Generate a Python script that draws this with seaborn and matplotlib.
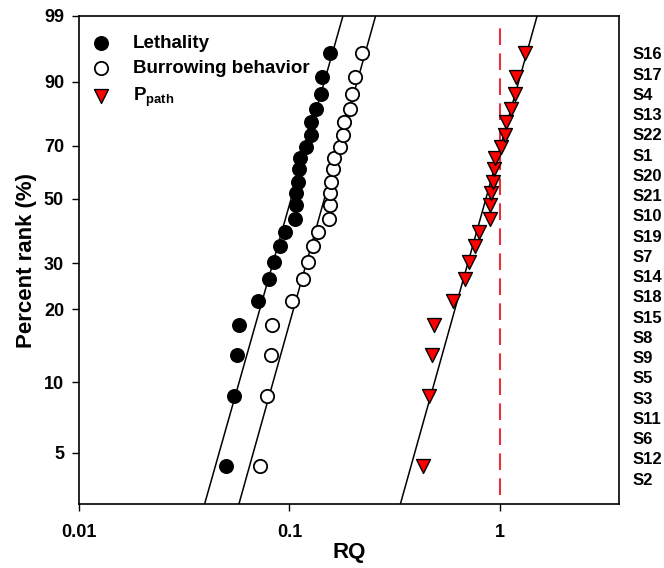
import numpy as np
import pandas as pd
import matplotlib
matplotlib.use('Agg')
import matplotlib.pyplot as plt
import seaborn as sns
from matplotlib.ticker import NullLocator

# percent rank shared by all three series (lowest to highest)
pct_rank = [4.2, 9.0, 13.7, 17.8, 21.9, 26.5, 30.4, 35.4, 39.7, 43.9, 48.1,
            52.1, 56.4, 61.1, 65.4, 69.5, 73.4, 77.4, 81.5, 86.2, 90.7, 93.9]

# RQ values, sorted ascending
lethality = [0.0501, 0.0543, 0.0563, 0.0576, 0.0709, 0.0800, 0.0842, 0.0899,
             0.0950, 0.1060, 0.1079, 0.1079, 0.1099, 0.1111, 0.1119, 0.1205,
             0.1263, 0.1272, 0.1344, 0.1420, 0.1436, 0.1555]
burrowing = [0.0722, 0.0782, 0.0815, 0.0830, 0.1029, 0.1161, 0.1226, 0.1295,
             0.1368, 0.1543, 0.1560, 0.1567, 0.1584, 0.1612, 0.1625, 0.1735,
             0.1800, 0.1810, 0.1936, 0.1995, 0.2046, 0.2226]
p_path = [0.430, 0.460, 0.477, 0.486, 0.601, 0.683, 0.716, 0.762, 0.799, 0.898,
          0.905, 0.908, 0.931, 0.945, 0.949, 1.013, 1.065, 1.070, 1.139, 1.181,
          1.203, 1.318]

# site names listed down the right side (top to bottom)
sites = ['S16', 'S17', 'S4', 'S13', 'S22', 'S1', 'S20', 'S21', 'S10', 'S19', 'S7',
         'S14', 'S18', 'S15', 'S8', 'S9', 'S5', 'S3', 'S11', 'S6', 'S12', 'S2']

y_ticks = [5, 10, 20, 30, 50, 70, 90, 99]
x_ticks = [0.01, 0.1, 1]
x_tick_labels = ['0.01', '0.1', '1']

# the probability axis, as drawn in the original (percent -> position)
scale_pct = [2, 5, 10, 20, 30, 50, 70, 90, 99]
scale_pos = [0, 51.6, 122.0, 195.0, 241.0, 305.3, 358.6, 422.3, 488.6]


def fwd(p):
    return np.interp(p, scale_pct, scale_pos)


def inv(v):
    return np.interp(v, scale_pos, scale_pct)


sns.set_theme(style='ticks')
plt.rcParams['font.family'] = ['Liberation Sans', 'DejaVu Sans']
plt.rcParams['font.weight'] = 'bold'
plt.rcParams['axes.labelweight'] = 'bold'
plt.rcParams['text.color'] = 'black'
plt.rcParams['axes.labelcolor'] = 'black'
plt.rcParams['mathtext.fontset'] = 'custom'
plt.rcParams['mathtext.rm'] = 'Liberation Sans:bold'
plt.rcParams['mathtext.bf'] = 'Liberation Sans:bold'
plt.rcParams['mathtext.default'] = 'rm'

fig, ax = plt.subplots(figsize=(6.64, 5.68), dpi=100)
fig.subplots_adjust(left=0.1194, right=0.9322, bottom=0.1121, top=0.9724)

ax.set_xscale('log')
ax.set_yscale('function', functions=(fwd, inv))

sns.scatterplot(x=lethality, y=pct_rank, ax=ax, color='black', edgecolor='black',
                s=92, linewidth=1.2, label='Lethality', zorder=3)
sns.scatterplot(x=burrowing, y=pct_rank, ax=ax, color='white', edgecolor='black',
                s=92, linewidth=1.3, label='Burrowing behavior', zorder=3)
sns.scatterplot(x=p_path, y=pct_rank, ax=ax, color='#ff0000', edgecolor='black',
                marker='v', s=100, linewidth=1.0, label='P$_{path}$', zorder=3)

# fitted lines (log RQ against rank position)
for vals in [lethality, burrowing, p_path]:
    a, b = np.polyfit(fwd(np.array(pct_rank)), np.log10(vals), 1)
    ends = fwd(np.array([2, 99]))
    ax.plot(10 ** (a * ends + b), [2, 99], color='black', lw=1.1, zorder=2)

ax.axvline(1, ymin=0.02, ymax=0.99, color='#e8313a', lw=1.5, dashes=(8, 4), zorder=1)

ax.set_xlim(0.01, 3.7)
ax.set_ylim(2, 99)
ax.set_xticks(x_ticks)
ax.set_xticklabels(x_tick_labels)
ax.xaxis.set_minor_locator(NullLocator())
ax.set_yticks(y_ticks)
ax.set_yticklabels([str(t) for t in y_ticks])
ax.yaxis.set_minor_locator(NullLocator())

ax.tick_params(axis='both', direction='out', length=5, width=1, labelsize=13,
               colors='black', labelcolor='black')
ax.tick_params(axis='x', pad=9)
ax.tick_params(axis='y', pad=6)
for sp in ax.spines.values():
    sp.set_visible(True)
    sp.set_linewidth(1.2)
    sp.set_color('black')

ax.set_xlabel('RQ', fontsize=16, labelpad=1)
ax.set_ylabel('Percent rank (%)', fontsize=16, labelpad=5)

for yy, name in zip(np.linspace(0.9196, 0.0497, len(sites)), sites):
    ax.text(1.0254, yy, name, transform=ax.transAxes, ha='left', va='center',
            fontsize=12, fontweight='bold')

ax.legend(loc='upper left', bbox_to_anchor=(0.0228, 0.961), frameon=False,
          fontsize=13.5, borderpad=0, borderaxespad=0, handlelength=1.0,
          handletextpad=1.2, labelspacing=0.45)

fig.savefig('out.png', dpi=100)
